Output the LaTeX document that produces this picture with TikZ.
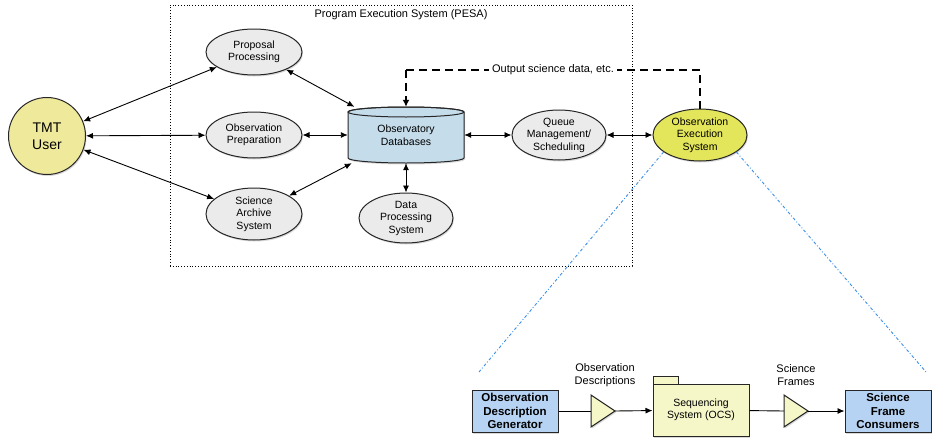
\documentclass[tikz,border=0pt]{standalone}
\usepackage{fontspec}
\setmainfont{Liberation Sans}
\usetikzlibrary{arrows.meta,shapes.geometric,shadows}
\definecolor{procgray}{HTML}{EBEBEB}
\definecolor{useryellow}{HTML}{EFEA9B}
\definecolor{execyellow}{HTML}{E3E65A}
\definecolor{dbblue}{HTML}{C5DCEB}
\definecolor{boxblue}{HTML}{B6D3F3}
\definecolor{paleyellow}{HTML}{F6F7C9}
\definecolor{linkblue}{HTML}{3D8FE6}
\begin{document}
\begin{tikzpicture}[x=1pt,y=-1pt,
  shad/.style={drop shadow={shadow xshift=1pt,shadow yshift=-1.5pt,opacity=0.3}},
  proc/.style={ellipse,draw=black!85,line width=1pt,fill=procgray,minimum width=96pt,minimum height=46pt,inner sep=0pt,align=center,font=\fontsize{10.5}{12.5}\selectfont,shad},
  usr/.style={circle,draw=black!85,line width=1pt,fill=useryellow,minimum size=77pt,inner sep=0pt,align=center,font=\fontsize{14}{17}\selectfont,shad},
  bi/.style={{Latex[length=7pt,width=6pt]}-{Latex[length=7pt,width=6pt]},line width=0.9pt},
  one/.style={-{Latex[length=7pt,width=6pt]},line width=0.9pt},
  plain/.style={line width=0.9pt},
  box/.style={rectangle,draw=black!85,line width=1pt,fill=boxblue,minimum width=86pt,minimum height=42pt,inner sep=0pt,align=center,font=\fontsize{11.5}{13.5}\selectfont\bfseries,shad},
  lbl/.style={align=center,inner sep=1pt,font=\fontsize{11}{13.5}\selectfont},
  tri/.style={draw=black!85,line width=1pt,fill=paleyellow,shad},
  zoomline/.style={draw=linkblue,line width=0.9pt,dash dot},
  outdash/.style={line width=1.8pt,dash pattern=on 8pt off 5pt}
]
\useasboundingbox (0,0) rectangle (940,447);

% PESA frame
\node[draw,dotted,line width=0.8pt,minimum width=462pt,minimum height=261pt,inner sep=0pt] (pesa) at (401,135.5) {};
\node[lbl] (pesatitle) at (401,15) {Program Execution System (PESA)};

% user and processes
\node[usr] (user) at (47,136) {TMT\\User};
\node[proc] (prop) at (254,52) {Proposal\\Processing};
\node[proc] (prep) at (254,135) {Observation\\Preparation};
\node[proc,minimum height=52pt] (arch) at (254,214) {Science\\Archive\\System};

% database cylinder
\path[fill=dbblue,draw=black!85,line width=1pt,shad] (348,112) -- (348,158) arc[start angle=180,end angle=360,x radius=58pt,y radius=5pt] -- (464,112) arc[start angle=0,end angle=180,x radius=58pt,y radius=5pt] -- cycle;
\draw[draw=black!85,line width=1pt] (406,112) ellipse[x radius=58pt,y radius=5pt];
\node[rectangle,minimum width=116pt,minimum height=56pt,inner sep=0pt,align=center,font=\fontsize{10.5}{12.5}\selectfont] (db) at (406,135) {\raisebox{-3pt}{\parbox{80pt}{\centering Observatory\\Databases}}};

\node[proc,minimum width=94pt,minimum height=50pt] (dps) at (406,218) {Data\\Processing\\System};
\node[proc,minimum width=94pt,minimum height=50pt] (queue) at (559,135) {Queue\\Management/\\Scheduling};
\node[proc,fill=execyellow,minimum width=94pt,minimum height=52pt] (exec) at (700,135) {Observation\\Execution\\System};

% connectors
\draw[bi] (user) -- (prop);
\draw[bi] (user) -- (prep);
\draw[bi] (user) -- (arch);
\draw[bi] (prop) -- (db);
\draw[bi] (prep) -- (db);
\draw[bi] (arch) -- (db);
\draw[bi] (db) -- (dps);
\draw[bi] (db) -- (queue);
\draw[bi] (queue) -- (exec);

% dashed output path
\coordinate (dashy) at (0,70);
\draw[outdash] (exec.north) -- (exec.north |- dashy) -- node[lbl,fill=white,inner sep=3pt,pos=0.5] (outlbl) {Output science data, etc.} (db.north |- dashy);
\draw[outdash,-{Latex[length=7pt,width=7pt]}] (db.north |- dashy) -- (db.north);

% zoom lines
\coordinate (zl) at (479,372);
\coordinate (zr) at (926,372);
\draw[zoomline] (exec.205) -- (zl);
\draw[zoomline] (exec.335) -- (zr);

% bottom detail
\node[box] (odg) at (515,411) {Observation\\Description\\Generator};
\node[box] (sfc) at (888,411) {Science\\Frame\\Consumers};
\path[tri] (653,376) rectangle (678,385);
\node[rectangle,draw=black!85,line width=1pt,fill=paleyellow,minimum width=96pt,minimum height=52pt,inner sep=0pt,align=center,font=\fontsize{10.5}{12.5}\selectfont,shad] (ocs) at (701,410) {Sequencing\\System (OCS)};

\path[tri] (591,395) -- (615,411) -- (591,427) -- cycle;
\coordinate (t1w) at (591,411);
\coordinate (t1e) at (615,411);
\path[tri] (784,395) -- (808,411) -- (784,427) -- cycle;
\coordinate (t2w) at (784,411);
\coordinate (t2e) at (808,411);

\node[lbl] (l1) at (605,375) {Observation\\Descriptions};
\node[lbl] (l2) at (796,375) {Science\\Frames};

\draw[plain] (odg) -- (t1w);
\draw[one] (t1e) -- (ocs);
\draw[plain] (ocs) -- (t2w);
\draw[one] (t2e) -- (sfc);
\end{tikzpicture}
\end{document}
